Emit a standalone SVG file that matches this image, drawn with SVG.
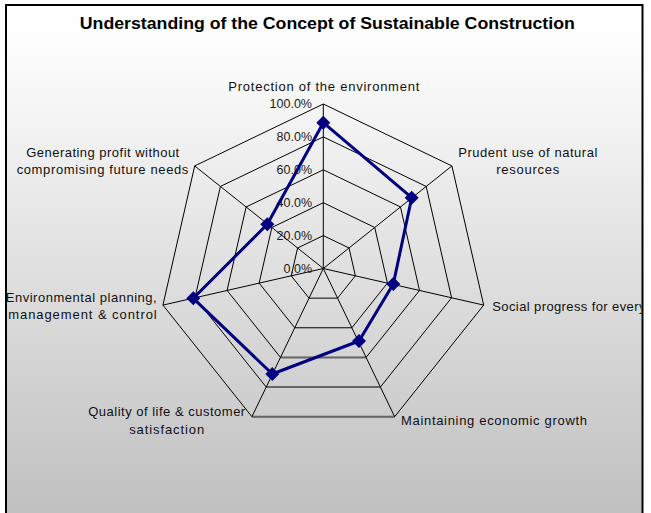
<svg xmlns="http://www.w3.org/2000/svg" width="651" height="513" viewBox="0 0 651 513">
  <defs>
    <linearGradient id="bg" x1="0" y1="5" x2="0" y2="513" gradientUnits="userSpaceOnUse">
      <stop offset="0" stop-color="#ffffff"/>
      <stop offset="0.08" stop-color="#fdfdfd"/>
      <stop offset="1" stop-color="#c0c0c0"/>
    </linearGradient>
    <clipPath id="frame">
      <rect x="7" y="6" width="634.5" height="510"/>
    </clipPath>
    <path id="dia" d="M0,-7 L7,0 L0,7 L-7,0 Z"/>
  </defs>
  <style>
    .grid { fill: none; stroke: #000; stroke-width: 1; }
    .lbl { font-family: "Liberation Sans", Arial, sans-serif; font-size: 13px; fill: #111; }
    .tick { font-family: "Liberation Sans", Arial, sans-serif; font-size: 12.5px; fill: #1a1a1a; text-anchor: end; }
    .mid { text-anchor: middle; }
    .end { text-anchor: end; }
    .title { font-family: "Liberation Sans", Arial, sans-serif; font-size: 16.5px; font-weight: bold; fill: #000; text-anchor: middle; }
    .series { fill: none; stroke: #000080; stroke-width: 3; stroke-linejoin: round; }
    .mk { fill: #000080; }
    .hz { stroke: #666; stroke-width: 2; }
  </style>

  <rect x="6" y="5" width="636.5" height="520" fill="url(#bg)" stroke="#000" stroke-width="2"/>

  <text id="title" class="title" x="327.3" y="28.7" textLength="495" lengthAdjust="spacingAndGlyphs">Understanding of the Concept of Sustainable Construction</text>

  <g id="grid" transform="translate(323.3,268.5)">
    <polygon class="grid" points="0,-32.9 25.72,-20.51 32.08,7.32 14.27,29.64 -14.27,29.64 -32.08,7.32 -25.72,-20.51"/>
    <polygon class="grid" points="0,-65.8 51.44,-41.03 64.15,14.64 28.55,59.28 -28.55,59.28 -64.15,14.64 -51.44,-41.03"/>
    <polygon class="grid" points="0,-98.7 77.17,-61.54 96.23,21.96 42.82,88.93 -42.82,88.93 -96.23,21.96 -77.17,-61.54"/>
    <polygon class="grid" points="0,-131.6 102.89,-82.05 128.30,29.28 57.10,118.57 -57.10,118.57 -128.30,29.28 -102.89,-82.05"/>
    <polygon class="grid" points="0,-164.5 128.61,-102.56 160.38,36.60 71.37,148.21 -71.37,148.21 -160.38,36.60 -128.61,-102.56"/>
    <line class="hz" x1="-42.82" y1="88.93" x2="42.82" y2="88.93"/>
    <line class="hz" x1="-57.10" y1="118.57" x2="57.10" y2="118.57"/>
    <line class="hz" x1="-71.37" y1="148.21" x2="71.37" y2="148.21"/>
    <g class="grid">
      <line x1="0" y1="0" x2="0" y2="-164.5"/>
      <line x1="0" y1="0" x2="128.61" y2="-102.56"/>
      <line x1="0" y1="0" x2="160.38" y2="36.60"/>
      <line x1="0" y1="0" x2="71.37" y2="148.21"/>
      <line x1="0" y1="0" x2="-71.37" y2="148.21"/>
      <line x1="0" y1="0" x2="-160.38" y2="36.60"/>
      <line x1="0" y1="0" x2="-128.61" y2="-102.56"/>
    </g>
  </g>

  <g id="ticks">
    <text class="tick" x="312" y="108">100.0%</text>
    <text class="tick" x="312" y="141">80.0%</text>
    <text class="tick" x="312" y="174">60.0%</text>
    <text class="tick" x="312" y="207">40.0%</text>
    <text class="tick" x="312" y="240">20.0%</text>
    <text class="tick" x="312" y="272.5">0.0%</text>
  </g>

  <g id="series">
    <polygon class="series" points="323.3,122.7 411.7,197.7 393.3,284 359,341 272.3,374 193.3,298.3 267.3,224.3"/>
    <use href="#dia" class="mk" x="323.3" y="122.7"/>
    <use href="#dia" class="mk" x="411.7" y="197.7"/>
    <use href="#dia" class="mk" x="393.3" y="284"/>
    <use href="#dia" class="mk" x="359" y="341"/>
    <use href="#dia" class="mk" x="272.3" y="374"/>
    <use href="#dia" class="mk" x="193.3" y="298.3"/>
    <use href="#dia" class="mk" x="267.3" y="224.3"/>
  </g>

  <g id="labels" clip-path="url(#frame)">
    <g id="axis-protection">
      <text class="lbl mid" x="323.8" y="90.7" textLength="191" lengthAdjust="spacing">Protection of the environment</text>
    </g>
    <g id="axis-prudent">
      <text class="lbl mid" x="527.8" y="156.7" textLength="139" lengthAdjust="spacing">Prudent use of natural</text>
      <text class="lbl mid" x="527.7" y="174.3" textLength="63" lengthAdjust="spacing">resources</text>
    </g>
    <g id="axis-social">
      <text class="lbl" x="492.3" y="310.7" textLength="176" lengthAdjust="spacing">Social progress for everyone</text>
    </g>
    <g id="axis-economic">
      <text class="lbl" x="401" y="425" textLength="186" lengthAdjust="spacing">Maintaining economic growth</text>
    </g>
    <g id="axis-quality">
      <text class="lbl mid" x="166.7" y="416" textLength="157" lengthAdjust="spacing">Quality of life &amp; customer</text>
      <text class="lbl mid" x="166.7" y="434" textLength="75" lengthAdjust="spacing">satisfaction</text>
    </g>
    <g id="axis-environmental">
      <text class="lbl end" x="156.7" y="301.7" textLength="151" lengthAdjust="spacing">Environmental planning,</text>
      <text class="lbl end" x="156.7" y="319.3" textLength="148.5" lengthAdjust="spacing">management &amp; control</text>
    </g>
    <g id="axis-profit">
      <text class="lbl mid" x="102.7" y="156.7" textLength="153" lengthAdjust="spacing">Generating profit without</text>
      <text class="lbl mid" x="102.5" y="174.3" textLength="171.7" lengthAdjust="spacing">compromising future needs</text>
    </g>
  </g>
</svg>
